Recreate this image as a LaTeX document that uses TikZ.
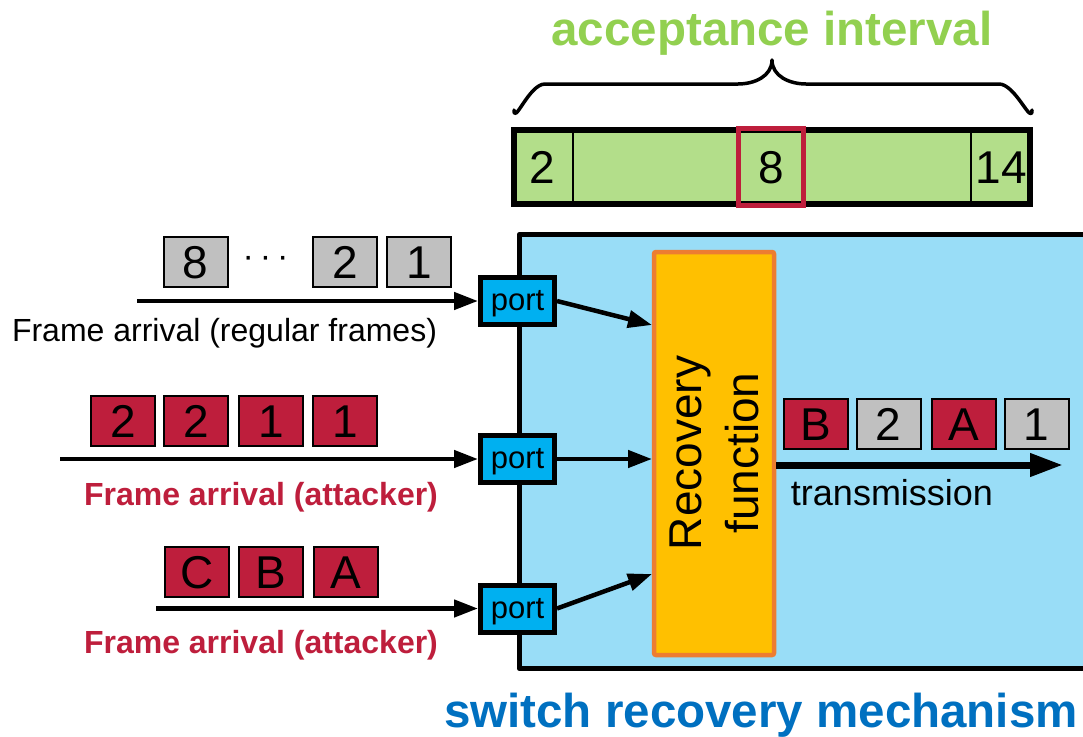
\documentclass[tikz,border=0pt]{standalone}
\usepackage{fontspec}
\setmainfont{Liberation Sans}
\usetikzlibrary{arrows.meta}
\definecolor{titlegreen}{HTML}{92D050}
\definecolor{barfill}{HTML}{B3DE8A}
\definecolor{frred}{HTML}{BE1E3C}
\definecolor{frgray}{HTML}{C0C0C0}
\definecolor{swfill}{HTML}{99DDF7}
\definecolor{portfill}{HTML}{00B0F0}
\definecolor{recfill}{HTML}{FFC000}
\definecolor{recborder}{HTML}{ED7D31}
\definecolor{titleblue}{HTML}{0070C0}
\begin{document}
\begin{tikzpicture}[x=1pt,y=-1pt,
  bigfont/.style={font=\fontsize{46}{50}\selectfont},
  frame/.style={draw=black, line width=2pt, minimum width=64pt, minimum height=50pt, inner sep=0pt, text height=33pt, text depth=0pt, bigfont},
  redfr/.style={frame, fill=frred},
  grayfr/.style={frame, fill=frgray},
  portbox/.style={draw=black, line width=5pt, fill=portfill, minimum width=74pt, minimum height=47pt, inner sep=0pt, text height=25pt, text depth=6pt, font=\fontsize{31}{34}\selectfont},
  arr/.style={line width=4.5pt, -{Triangle[length=24pt,width=17pt]}},
  lbl/.style={font=\fontsize{32}{34}\selectfont, inner sep=0pt, anchor=base},
  attlbl/.style={lbl, font=\fontsize{32}{34}\selectfont\bfseries, text=frred},
  bigtitle/.style={font=\fontsize{47.5}{52}\selectfont\bfseries, inner sep=0pt, anchor=base}
]
\useasboundingbox (0,0) rectangle (1083,736);

% titles
\node[bigtitle, text=titlegreen] (acc) at (772,45) {acceptance interval};
\node[bigtitle, text=titleblue] (swt) at (761,727) {switch recovery mechanism};

% brace
\draw[line width=3.5pt, line cap=round, line join=round] (514,110) to[out=-90,in=180] (545,84) -- (738,84) to[out=0,in=-90] (772,60) to[out=-90,in=180] (806,84) -- (999,84) to[out=0,in=-90] (1032,110);

% acceptance bar
\node[draw=black, line width=6pt, fill=barfill, minimum width=516pt, minimum height=74pt, inner sep=0pt] (bar) at (772,167) {};
\draw[line width=2.5pt] (573,130) -- (573,205);
\draw[line width=2.5pt] (971,130) -- (971,205);
\node[bigfont, inner sep=0pt, text height=33pt, text depth=0pt] (n2) at (542,167) {2};
\node[bigfont, inner sep=0pt, text height=33pt, text depth=0pt] (n14) at (1001,167) {14};
\node[draw=frred, line width=5pt, minimum width=65pt, minimum height=77pt, inner sep=0pt, bigfont, text height=33pt, text depth=0pt] (sel) at (771,167) {8};

% switch box
\draw[line width=5.5pt, fill=swfill, line join=round] (1090,234.5) -- (519.5,234.5) -- (519.5,668.5) -- (1090,668.5);
\node[inner sep=0pt, minimum width=565pt, minimum height=434pt] (sw) at (802,451.5) {};

% recovery function
\node[draw=recborder, fill=recfill, line width=4.5pt, rounded corners=2pt, minimum width=120pt, minimum height=403pt, inner sep=0pt] (rec) at (714,453.5) {};
\node[rotate=90, align=center, font=\fontsize{46}{57}\selectfont, inner sep=0pt] (rectext) at (714,453) {Recovery\\function};

% ports
\node[portbox] (p1) at (517.5,301) {port};
\node[portbox] (p2) at (517.5,459) {port};
\node[portbox] (p3) at (517.5,608.5) {port};

% incoming arrows
\coordinate (s1) at (137,301);
\coordinate (s2) at (60,459);
\coordinate (s3) at (156,608.5);
\draw[arr] (s1) -- (p1.west);
\draw[arr] (s2) -- (p2.west);
\draw[arr] (s3) -- (p3.west);

% port to recovery
\coordinate (r1) at (652,325);
\coordinate (r2) at (652,459);
\coordinate (r3) at (652,574);
\draw[arr] (p1.east) -- (r1);
\draw[arr] (p2.east) -- (r2);
\draw[arr] (p3.east) -- (r3);

% labels
\node[lbl] (l1) at (224.5,341) {Frame arrival (regular frames)};
\node[attlbl] (l2) at (261,505) {Frame arrival (attacker)};
\node[attlbl] (l3) at (261,653) {Frame arrival (attacker)};

% row 1 frames
\node[grayfr] (a8) at (195.5,262) {8};
\node[font=\fontsize{34}{36}\selectfont, inner sep=0pt] (dots) at (265.5,262) {\textperiodcentered\hspace{6pt}\textperiodcentered\hspace{6pt}\textperiodcentered};
\node[grayfr] (a2) at (345,262) {2};
\node[grayfr] (a1) at (419,262) {1};

% row 2 frames
\node[redfr] (b1) at (123,420.5) {2};
\node[redfr] (b2) at (196,420.5) {2};
\node[redfr] (b3) at (271,420.5) {1};
\node[redfr] (b4) at (345,420.5) {1};

% row 3 frames
\node[redfr] (cC) at (197,571.5) {C};
\node[redfr] (cB) at (271,571.5) {B};
\node[redfr] (cA) at (346,571.5) {A};

% output
\node[redfr] (oB) at (815.5,423.5) {B};
\node[grayfr] (o2) at (888.5,423.5) {2};
\node[redfr] (oA) at (963.5,423.5) {A};
\node[grayfr] (o1) at (1036.5,423.5) {1};
\coordinate (tend) at (1063,465);
\draw[line width=7pt, -{Triangle[length=33pt,width=22pt]}] (rec.east |- tend) -- (tend);
\node[font=\fontsize{36}{40}\selectfont, inner sep=0pt, anchor=base] (tr) at (892,505) {transmission};
\end{tikzpicture}
\end{document}
